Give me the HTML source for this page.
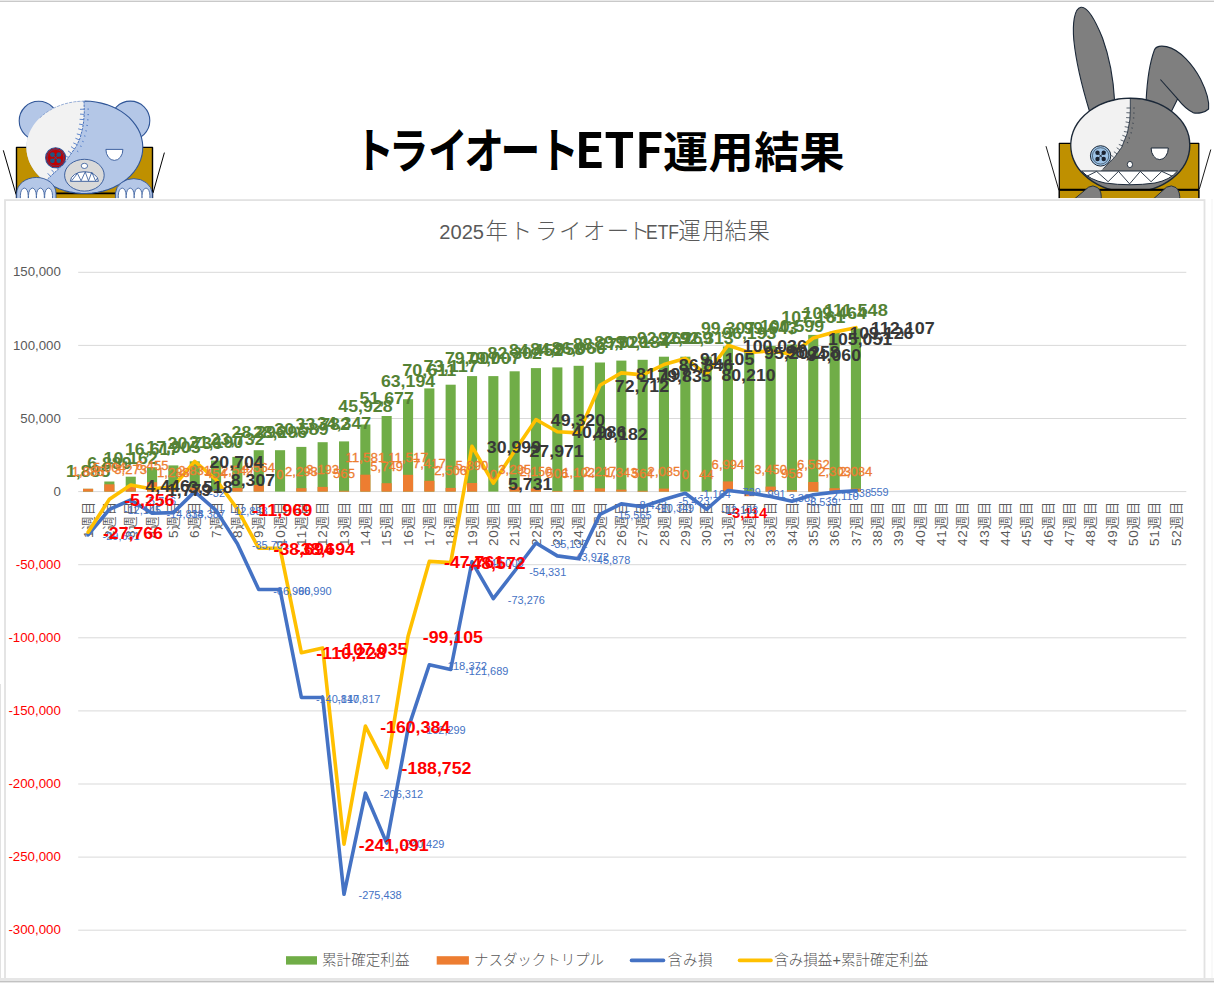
<!DOCTYPE html>
<html lang="ja"><head><meta charset="utf-8"><title>トライオートETF運用結果</title>
<style>html,body{margin:0;padding:0;background:#fff;width:1214px;height:983px;overflow:hidden}svg text{white-space:pre}</style>
</head><body>
<svg width="1214" height="983" viewBox="0 0 1214 983" style="position:absolute;left:0;top:0">
<rect x="0" y="0" width="1214" height="983" fill="#fff"/>
<g id="bear" stroke-linejoin="round">
<rect x="16.5" y="147.4" width="136" height="56" fill="#bf9000" stroke="#000" stroke-width="1.4"/>
<line x1="16.5" y1="193.3" x2="152.5" y2="193.3" stroke="#000" stroke-width="1.8"/>
<line x1="3.3" y1="150.3" x2="16.1" y2="194.6" stroke="#000" stroke-width="1"/>
<line x1="164.4" y1="152.6" x2="153" y2="193" stroke="#000" stroke-width="1"/>
<circle cx="38.7" cy="120.8" r="19.5" fill="#b4c7e7" stroke="#2f5597" stroke-width="1.1"/>
<circle cx="130.3" cy="120.6" r="19.5" fill="#b4c7e7" stroke="#2f5597" stroke-width="1.1"/>
<ellipse cx="84.6" cy="147.3" rx="58.2" ry="46.2" fill="#b4c7e7"/>
<path d="M84.0,101.1 L84.3,112.9 L83.6,122.0 L82.4,129.4 L80.2,137.7 L76.6,145.9 L70.8,154.1 L65.1,162.4 L56.8,170.6 L47.8,178.8 L45.0,181.2 L42.5,179.2 L40.2,177.2 L38.0,175.0 L36.0,172.8 L34.2,170.4 L32.6,168.0 L31.1,165.5 L29.8,162.9 L28.7,160.3 L27.9,157.6 L27.2,154.9 L26.7,152.1 L26.5,149.4 L26.4,146.6 L26.6,143.9 L26.9,141.1 L27.5,138.4 L28.3,135.7 L29.2,133.0 L30.4,130.4 L31.8,127.9 L33.3,125.4 L35.1,123.0 L37.0,120.7 L39.1,118.5 L41.3,116.4 L43.8,114.4 L46.3,112.5 L49.0,110.8 L51.8,109.1 L54.7,107.6 L57.8,106.3 L60.9,105.1 L64.1,104.0 L67.4,103.2 L70.8,102.4 L74.2,101.8 L77.7,101.4 L81.1,101.2 L84.6,101.1Z" fill="#f2f2f2"/>
<path d="M84.6,101.1 L90.3,101.3 L95.8,102.0 L101.3,103.1 L106.7,104.6 L111.8,106.5 L116.7,108.7 L121.2,111.4 L125.4,114.4 L129.3,117.7 L132.7,121.3 L135.6,125.1 L138.1,129.1 L140.1,133.3 L141.5,137.7 L142.4,142.1 L142.8,146.6 L142.6,151.1 L141.9,155.5 L140.6,159.9 L138.8,164.2 L136.5,168.3 L133.7,172.2 L130.4,175.8 L126.7,179.2 L122.6,182.3 L118.1,185.1 L113.3,187.5 L108.3,189.5 L103.0,191.1 L97.6,192.3 L92.0,193.1 L86.4,193.5 L80.7,193.4 L75.1,192.9 L69.5,191.9 L64.2,190.6 L59.0,188.8 L54.0,186.6 L49.4,184.1 L45.0,181.2" fill="none" stroke="#2f5597" stroke-width="1.1"/>
<path d="M84.6,101.1 L79.5,101.3 L74.4,101.8 L69.4,102.7 L64.5,103.9 L59.8,105.5 L55.3,107.4 L51.0,109.6 L46.9,112.1 L43.2,114.8 L39.8,117.9" fill="none" stroke="#5b7fc0" stroke-width="0.7" stroke-dasharray="3 1.2" opacity="0.8"/>
<path d="M84.0,101.1 L84.3,112.9 L83.6,122.0 L82.4,129.4 L80.2,137.7 L76.6,145.9 L70.8,154.1 L65.1,162.4 L56.8,170.6 L47.8,178.8" fill="none" stroke="#3a66b5" stroke-width="0.9" stroke-dasharray="2.4 1"/>
<path d="M84.2,109.2 l-4.2,0.1 M87.4,109.1 l1.6,-0.0 M84.2,114.4 l-4.2,-0.3 M87.4,114.6 l1.6,0.1 M83.8,119.6 l-4.2,-0.3 M87.0,119.8 l1.6,0.1 M83.2,124.8 l-4.1,-0.7 M86.3,125.3 l1.6,0.3 M82.3,129.9 l-4.1,-1.1 M85.4,130.7 l1.5,0.4 M80.9,135.0 l-4.1,-1.1 M84.0,135.8 l1.5,0.4 M79.2,139.9 l-3.8,-1.7 M82.2,141.2 l1.5,0.6 M77.1,144.6 l-3.8,-1.7 M80.1,145.9 l1.5,0.6 M74.4,149.0 l-3.4,-2.4 M77.0,150.9 l1.3,0.9 M71.4,153.3 l-3.4,-2.4 M68.4,157.6 l-3.5,-2.4 M65.4,161.9 l-3.5,-2.4 M61.8,165.6 l-3.0,-3.0 M58.1,169.3 l-3.0,-3.0 M54.3,172.9 l-2.8,-3.1 M50.5,176.4 l-2.8,-3.1" fill="none" stroke="#4472c4" stroke-width="0.85"/>
<circle cx="55.6" cy="157.7" r="10" fill="#c00000" stroke="#2f5597" stroke-width="1.1"/>
<circle cx="55.6" cy="157.7" r="8.3" fill="none" stroke="#2f5597" stroke-width="0.6"/>
<circle cx="52.4" cy="154.6" r="2.4" fill="#1f5582"/>
<circle cx="52.4" cy="160.79999999999998" r="2.4" fill="#1f5582"/>
<circle cx="58.800000000000004" cy="154.6" r="2.4" fill="#1f5582"/>
<circle cx="58.800000000000004" cy="160.79999999999998" r="2.4" fill="#1f5582"/>
<path d="M53.6,155.7 L57.6,159.7 M57.6,155.7 L53.6,159.7" stroke="#1f5c8e" stroke-width="0.9"/>
<path d="M105.9,149.4 L122.9,149.4 A8.5,11 0 0 1 105.9,149.4 Z" fill="#fff" stroke="#2f5597" stroke-width="0.9"/>
<ellipse cx="84.4" cy="175.2" rx="19.8" ry="15.9" fill="#d9d9d9" stroke="#2f5597" stroke-width="0.9"/>
<ellipse cx="84.4" cy="165.9" rx="3.2" ry="2.6" fill="#fff" stroke="#2f5597" stroke-width="0.8"/>
<path d="M70.4,181.3 A14,9.6 0 0 1 98.4,181.3 Z" fill="#fff" stroke="#2f5597" stroke-width="0.9"/>
<path d="M71.6,180.8 L77.4,173.4 L81.1,180.8 L85.2,171.9 L88.5,180.8 L91.8,172.2 L95.5,180.8 L97.5,178" fill="none" stroke="#2f5597" stroke-width="0.8"/>
<path d="M16.7,201 L16.7,193.2 A19.6,15.7 0 0 1 56,193.2 L56,201 Z" fill="#b4c7e7" stroke="#2f5597" stroke-width="0.9"/>
<path d="M115.4,201 L115.4,193.2 A18.5,15.7 0 0 1 152.3,193.2 L152.3,201 Z" fill="#b4c7e7" stroke="#2f5597" stroke-width="0.9"/>
<path d="M20.400000000000002,201 L20.400000000000002,195.5 A3.9,7.4 0 0 1 28.2,195.5 L28.2,201 Z" fill="#fff" stroke="#2f5597" stroke-width="0.8"/>
<path d="M28.5,201 L28.5,195.5 A3.9,7.4 0 0 1 36.3,195.5 L36.3,201 Z" fill="#fff" stroke="#2f5597" stroke-width="0.8"/>
<path d="M36.5,201 L36.5,195.5 A3.9,7.4 0 0 1 44.3,195.5 L44.3,201 Z" fill="#fff" stroke="#2f5597" stroke-width="0.8"/>
<path d="M44.7,201 L44.7,195.5 A3.9,7.4 0 0 1 52.5,195.5 L52.5,201 Z" fill="#fff" stroke="#2f5597" stroke-width="0.8"/>
<path d="M118.3,201 L118.3,195.5 A3.9,7.4 0 0 1 126.10000000000001,195.5 L126.10000000000001,201 Z" fill="#fff" stroke="#2f5597" stroke-width="0.8"/>
<path d="M126.29999999999998,201 L126.29999999999998,195.5 A3.9,7.4 0 0 1 134.1,195.5 L134.1,201 Z" fill="#fff" stroke="#2f5597" stroke-width="0.8"/>
<path d="M134.29999999999998,201 L134.29999999999998,195.5 A3.9,7.4 0 0 1 142.1,195.5 L142.1,201 Z" fill="#fff" stroke="#2f5597" stroke-width="0.8"/>
<path d="M142.1,201 L142.1,195.5 A3.9,7.4 0 0 1 149.9,195.5 L149.9,201 Z" fill="#fff" stroke="#2f5597" stroke-width="0.8"/>
</g>
<g id="rabbit" stroke-linejoin="round">
<rect x="1059.3" y="143.3" width="139.5" height="60" fill="#bf9000" stroke="#000" stroke-width="1.2"/>
<line x1="1046" y1="146.2" x2="1058.9" y2="190.3" stroke="#000" stroke-width="0.9"/>
<line x1="1210.8" y1="149.5" x2="1199.4" y2="188.9" stroke="#000" stroke-width="0.9"/>
<path d="M1089.4,111 C1083,90 1076,62 1073.8,40 C1072.5,24 1074,8.5 1081,7.3 C1088,6.3 1096,22 1102.5,38 C1109,56 1113.5,80 1114.6,101 Z" fill="#7f7f7f" stroke="#1b2838" stroke-width="1.1"/>
<path d="M1146.1,101 C1147,82 1150,62 1154.4,50 C1156,46 1161,45.6 1166.5,46.6 C1180,49.5 1193,65 1200.5,79 C1206,90 1209.5,101 1208.6,109 C1205,112.5 1198,114 1193,112.6 C1186,109 1181.5,104 1177.6,98.9 L1171.1,112 Z" fill="#7f7f7f" stroke="#1b2838" stroke-width="1.1"/>
<path d="M1160.4,79.5 L1177.6,98.9" fill="none" stroke="#1b2838" stroke-width="1.1"/>
<ellipse cx="1130.3" cy="145.2" rx="59.5" ry="46.9" fill="#7f7f7f" stroke="#1b2838" stroke-width="1.4"/>
<path d="M1130.3,98.6 L1130.3,110.0 L1129.8,120.0 L1127.4,133.0 L1121.7,147.3 L1114.5,157.4 L1103.1,168.8 L1100.5,171.0 L1081.5,171.0 L1079.8,168.9 L1078.2,166.7 L1076.8,164.4 L1075.6,162.1 L1074.5,159.8 L1073.6,157.4 L1072.8,155.0 L1072.2,152.5 L1071.8,150.1 L1071.6,147.6 L1071.5,145.1 L1071.6,142.6 L1071.9,140.1 L1072.3,137.6 L1072.9,135.2 L1073.7,132.7 L1074.6,130.3 L1075.7,128.0 L1077.0,125.7 L1078.4,123.5 L1080.0,121.3 L1081.7,119.2 L1083.6,117.2 L1085.5,115.2 L1087.7,113.4 L1089.9,111.6 L1092.3,109.9 L1094.8,108.4 L1097.4,106.9 L1100.0,105.6 L1102.8,104.4 L1105.7,103.3 L1108.6,102.3 L1111.6,101.4 L1114.6,100.7 L1117.7,100.1 L1120.8,99.6 L1124.0,99.3 L1127.1,99.1 L1130.3,99.0Z" fill="#f2f2f2"/>
<path d="M1130.3,98.6 L1130.3,110.0 L1129.8,120.0 L1127.4,133.0 L1121.7,147.3 L1114.5,157.4 L1103.1,168.8" fill="none" stroke="#1b2838" stroke-width="0.8"/>
<path d="M1130.3,108.0 l-3.8,0.0 M1133.3,108.0 l1.4,-0.0 M1130.2,112.9 l-3.8,-0.2 M1133.2,113.0 l1.4,0.1 M1129.9,117.8 l-3.8,-0.2 M1132.9,117.9 l1.4,0.1 M1129.3,122.6 l-3.7,-0.7 M1132.3,123.1 l1.4,0.3 M1128.4,127.4 l-3.7,-0.7 M1131.4,127.9 l1.4,0.3 M1127.6,132.2 l-3.7,-0.7 M1130.5,132.7 l1.4,0.3 M1125.9,136.7 l-3.5,-1.4 M1128.7,137.8 l1.3,0.5 M1124.1,141.3 l-3.5,-1.4 M1126.9,142.4 l1.3,0.5 M1122.3,145.8 l-3.5,-1.4 M1119.8,149.9 l-3.1,-2.2 M1117.0,153.9 l-3.1,-2.2 M1114.1,157.8 l-2.7,-2.7 M1110.7,161.2 l-2.7,-2.7" fill="none" stroke="#1b2838" stroke-width="0.7"/>
<circle cx="1100.6" cy="155.9" r="10.2" fill="#9dc3e6" stroke="#1b2838" stroke-width="1"/>
<circle cx="1100.6" cy="155.9" r="8.2" fill="none" stroke="#1b2838" stroke-width="0.6"/>
<circle cx="1097.5" cy="152.8" r="2.2" fill="#1b2230"/>
<circle cx="1097.5" cy="159.0" r="2.2" fill="#1b2230"/>
<circle cx="1103.6999999999998" cy="152.8" r="2.2" fill="#1b2230"/>
<circle cx="1103.6999999999998" cy="159.0" r="2.2" fill="#1b2230"/>
<path d="M1098.6,153.9 L1102.6,157.9 M1102.6,153.9 L1098.6,157.9" stroke="#1b2230" stroke-width="0.9"/>
<path d="M1151.1,148 L1168.3,148 A8.6,11.6 0 0 1 1151.1,148 Z" fill="#fff" stroke="#1b2838" stroke-width="1"/>
<ellipse cx="1129.9" cy="164.5" rx="2.6" ry="3.1" fill="#fff" stroke="#1b2838" stroke-width="0.9"/>
<path d="M1081.6,171 L1177.6,171 Q1170,180 1155,183 Q1130,186.5 1105,183 Q1090,180 1081.6,171 Z" fill="#fff" stroke="#1b2838" stroke-width="1"/>
<path d="M1087.3,176 L1096.6,171.4 L1108.1,181.7 L1118.5,171.4 L1129.6,183.9 L1140.3,171.4 L1151.1,181.7 L1161.8,171.4 L1171.9,176" fill="none" stroke="#1b2838" stroke-width="0.9"/>
<rect x="1059.3" y="189.8" width="139.5" height="14" fill="#bf9000" stroke="#000" stroke-width="1.2"/>
<line x1="1059.3" y1="189.8" x2="1198.8" y2="189.8" stroke="#000" stroke-width="2"/>
<path d="M1072,201 L1088.5,187.2 Q1093,184.4 1097.5,187.6 Q1102.5,191.5 1100.9,201 Z" fill="#7f7f7f" stroke="#1b2838" stroke-width="0.9"/>
<path d="M1151.1,201 L1166.5,187.2 Q1171.5,184.4 1176,187.6 Q1180.5,191.5 1179.7,201 Z" fill="#7f7f7f" stroke="#1b2838" stroke-width="0.9"/>
</g>
<rect x="0" y="198.1" width="1214" height="790" fill="#fff"/>
<rect x="5" y="200.1" width="1199.5" height="800" fill="none" stroke="#e2e2e2" stroke-width="1.8"/>
<rect x="0" y="0" width="1214" height="1" fill="#e9e9e9"/><rect x="0" y="1" width="1214" height="1" fill="#c9c9c9"/>
<rect x="0" y="978" width="1214" height="5" fill="#e6e6e6"/><rect x="0" y="981" width="1214" height="1" fill="#c2c2c2"/>
<rect x="0" y="684" width="1" height="294" fill="#e2e2e2"/>
<rect x="1211.5" y="199" width="1" height="779" fill="#f4f4f4"/>
<g style='font-family:"Noto Sans CJK JP","Liberation Sans",sans-serif;font-weight:700' fill="#000">
<text transform="scale(0.83,1)" x="426.80 468.34 515.55 559.41 603.15 649.46" y="168.3" font-size="48">トライオート</text>
<text transform="scale(1.0,1)" x="574.74 604.35 634.94" y="168" font-size="48.4">ETF</text>
<text transform="scale(1.04,1)" x="637.54 681.19 725.19 768.41" y="167.6" font-size="43.5">運用結果</text>
</g>
<g style='font-family:"Liberation Sans","Noto Sans CJK JP",sans-serif;font-size:22.4px;font-weight:300' fill="#595959">
<text y="239"><tspan x="439.3" style="font-weight:400;font-size:20.1px">2025</tspan><tspan x="485.5 509.8 535.1 559 582.9 606.7 627.7">年トライオート</tspan><tspan x="646" style="font-weight:400;font-size:20.1px" textLength="33" lengthAdjust="spacingAndGlyphs">ETF</tspan><tspan x="678.3 702.2 724.6 747.4">運用結果</tspan></text>
</g>
<g stroke="#d9d9d9" stroke-width="1">
<line x1="78.2" x2="1186.3" y1="930.2" y2="930.2"/>
<line x1="78.2" x2="1186.3" y1="857.1" y2="857.1"/>
<line x1="78.2" x2="1186.3" y1="784.0" y2="784.0"/>
<line x1="78.2" x2="1186.3" y1="710.9" y2="710.9"/>
<line x1="78.2" x2="1186.3" y1="637.8" y2="637.8"/>
<line x1="78.2" x2="1186.3" y1="564.7" y2="564.7"/>
<line x1="78.2" x2="1186.3" y1="491.6" y2="491.6"/>
<line x1="78.2" x2="1186.3" y1="418.5" y2="418.5"/>
<line x1="78.2" x2="1186.3" y1="345.4" y2="345.4"/>
<line x1="78.2" x2="1186.3" y1="272.3" y2="272.3"/>
</g>
<g style='font-family:"Liberation Sans",sans-serif;font-size:13px' text-anchor="end">
<text x="60.8" y="934.3" fill="#ff0000" textLength="52.4" lengthAdjust="spacingAndGlyphs">-300,000</text>
<text x="60.8" y="861.2" fill="#ff0000" textLength="52.4" lengthAdjust="spacingAndGlyphs">-250,000</text>
<text x="60.8" y="788.1" fill="#ff0000" textLength="52.4" lengthAdjust="spacingAndGlyphs">-200,000</text>
<text x="60.8" y="715.0" fill="#ff0000" textLength="52.4" lengthAdjust="spacingAndGlyphs">-150,000</text>
<text x="60.8" y="641.9" fill="#ff0000" textLength="52.4" lengthAdjust="spacingAndGlyphs">-100,000</text>
<text x="60.8" y="568.8" fill="#ff0000" textLength="45.0" lengthAdjust="spacingAndGlyphs">-50,000</text>
<text x="60.8" y="495.7" fill="#595959" textLength="7.4" lengthAdjust="spacingAndGlyphs">0</text>
<text x="60.8" y="422.6" fill="#595959" textLength="40.5" lengthAdjust="spacingAndGlyphs">50,000</text>
<text x="60.8" y="349.5" fill="#595959" textLength="47.9" lengthAdjust="spacingAndGlyphs">100,000</text>
<text x="60.8" y="276.4" fill="#595959" textLength="47.9" lengthAdjust="spacingAndGlyphs">150,000</text>
</g>
<g fill="#70ad47">
<rect x="83.0" y="488.8" width="10.1" height="2.8"/>
<rect x="104.3" y="481.5" width="10.1" height="10.1"/>
<rect x="125.7" y="476.7" width="10.1" height="14.9"/>
<rect x="147.0" y="467.3" width="10.1" height="24.3"/>
<rect x="168.3" y="465.4" width="10.1" height="26.2"/>
<rect x="189.7" y="461.3" width="10.1" height="30.3"/>
<rect x="211.0" y="460.6" width="10.1" height="31.0"/>
<rect x="232.3" y="456.9" width="10.1" height="34.7"/>
<rect x="253.7" y="450.2" width="10.1" height="41.4"/>
<rect x="275.0" y="450.2" width="10.1" height="41.4"/>
<rect x="296.3" y="446.9" width="10.1" height="44.7"/>
<rect x="317.6" y="442.2" width="10.1" height="49.4"/>
<rect x="339.0" y="441.4" width="10.1" height="50.2"/>
<rect x="360.3" y="424.5" width="10.1" height="67.1"/>
<rect x="381.6" y="416.0" width="10.1" height="75.6"/>
<rect x="403.0" y="399.2" width="10.1" height="92.4"/>
<rect x="424.3" y="388.4" width="10.1" height="103.2"/>
<rect x="445.6" y="384.7" width="10.1" height="106.9"/>
<rect x="467.0" y="376.1" width="10.1" height="115.5"/>
<rect x="488.3" y="376.1" width="10.1" height="115.5"/>
<rect x="509.6" y="371.3" width="10.1" height="120.3"/>
<rect x="530.9" y="368.1" width="10.1" height="123.5"/>
<rect x="552.3" y="367.4" width="10.1" height="124.2"/>
<rect x="573.6" y="365.8" width="10.1" height="125.8"/>
<rect x="594.9" y="362.5" width="10.1" height="129.1"/>
<rect x="616.3" y="360.6" width="10.1" height="131.0"/>
<rect x="637.6" y="359.8" width="10.1" height="131.8"/>
<rect x="658.9" y="356.7" width="10.1" height="134.9"/>
<rect x="680.3" y="356.7" width="10.1" height="134.9"/>
<rect x="701.6" y="356.6" width="10.1" height="135.0"/>
<rect x="722.9" y="346.4" width="10.1" height="145.2"/>
<rect x="744.2" y="351.0" width="10.1" height="140.6"/>
<rect x="765.6" y="345.9" width="10.1" height="145.7"/>
<rect x="786.9" y="344.5" width="10.1" height="147.1"/>
<rect x="808.2" y="334.9" width="10.1" height="156.7"/>
<rect x="829.6" y="331.6" width="10.1" height="160.0"/>
<rect x="850.9" y="328.5" width="10.1" height="163.1"/>
</g><g fill="#ed7d31">
<rect x="83.0" y="488.8" width="10.1" height="2.8"/>
<rect x="104.3" y="484.3" width="10.1" height="7.3"/>
<rect x="125.7" y="486.8" width="10.1" height="4.8"/>
<rect x="147.0" y="482.2" width="10.1" height="9.4"/>
<rect x="168.3" y="489.7" width="10.1" height="1.9"/>
<rect x="189.7" y="487.5" width="10.1" height="4.1"/>
<rect x="211.0" y="490.9" width="10.1" height="0.7"/>
<rect x="232.3" y="487.9" width="10.1" height="3.7"/>
<rect x="253.7" y="484.9" width="10.1" height="6.7"/>
<rect x="296.3" y="488.2" width="10.1" height="3.4"/>
<rect x="317.6" y="486.9" width="10.1" height="4.7"/>
<rect x="339.0" y="490.8" width="10.1" height="0.8"/>
<rect x="360.3" y="474.7" width="10.1" height="16.9"/>
<rect x="381.6" y="483.2" width="10.1" height="8.4"/>
<rect x="403.0" y="474.8" width="10.1" height="16.8"/>
<rect x="424.3" y="480.8" width="10.1" height="10.8"/>
<rect x="445.6" y="487.9" width="10.1" height="3.7"/>
<rect x="467.0" y="483.0" width="10.1" height="8.6"/>
<rect x="509.6" y="486.8" width="10.1" height="4.8"/>
<rect x="530.9" y="488.5" width="10.1" height="3.1"/>
<rect x="552.3" y="490.9" width="10.1" height="0.7"/>
<rect x="573.6" y="490.0" width="10.1" height="1.6"/>
<rect x="594.9" y="488.4" width="10.1" height="3.2"/>
<rect x="616.3" y="489.6" width="10.1" height="2.0"/>
<rect x="637.6" y="490.8" width="10.1" height="0.8"/>
<rect x="658.9" y="488.6" width="10.1" height="3.0"/>
<rect x="701.6" y="491.5" width="10.1" height="0.1"/>
<rect x="722.9" y="481.4" width="10.1" height="10.2"/>
<rect x="744.2" y="491.6" width="10.1" height="4.6"/>
<rect x="765.6" y="486.6" width="10.1" height="5.0"/>
<rect x="786.9" y="490.2" width="10.1" height="1.4"/>
<rect x="808.2" y="482.0" width="10.1" height="9.6"/>
<rect x="829.6" y="488.2" width="10.1" height="3.4"/>
<rect x="850.9" y="488.6" width="10.1" height="3.0"/>
</g>
<g style='font-family:"Liberation Sans","Noto Sans CJK JP",sans-serif;font-size:13.5px;font-weight:350' fill="#595959" text-anchor="end">
<text transform="translate(92.7,501.8) rotate(-90)" textLength="36.3" lengthAdjust="spacing"><tspan style="font-weight:400">1</tspan>週目</text>
<text transform="translate(114.0,501.8) rotate(-90)" textLength="36.3" lengthAdjust="spacing"><tspan style="font-weight:400">2</tspan>週目</text>
<text transform="translate(135.3,501.8) rotate(-90)" textLength="36.3" lengthAdjust="spacing"><tspan style="font-weight:400">3</tspan>週目</text>
<text transform="translate(156.7,501.8) rotate(-90)" textLength="36.3" lengthAdjust="spacing"><tspan style="font-weight:400">4</tspan>週目</text>
<text transform="translate(178.0,501.8) rotate(-90)" textLength="36.3" lengthAdjust="spacing"><tspan style="font-weight:400">5</tspan>週目</text>
<text transform="translate(199.3,501.8) rotate(-90)" textLength="36.3" lengthAdjust="spacing"><tspan style="font-weight:400">6</tspan>週目</text>
<text transform="translate(220.6,501.8) rotate(-90)" textLength="36.3" lengthAdjust="spacing"><tspan style="font-weight:400">7</tspan>週目</text>
<text transform="translate(242.0,501.8) rotate(-90)" textLength="36.3" lengthAdjust="spacing"><tspan style="font-weight:400">8</tspan>週目</text>
<text transform="translate(263.3,501.8) rotate(-90)" textLength="36.3" lengthAdjust="spacing"><tspan style="font-weight:400">9</tspan>週目</text>
<text transform="translate(284.6,501.8) rotate(-90)" textLength="44.1" lengthAdjust="spacing"><tspan style="font-weight:400">10</tspan>週目</text>
<text transform="translate(306.0,501.8) rotate(-90)" textLength="44.1" lengthAdjust="spacing"><tspan style="font-weight:400">11</tspan>週目</text>
<text transform="translate(327.3,501.8) rotate(-90)" textLength="44.1" lengthAdjust="spacing"><tspan style="font-weight:400">12</tspan>週目</text>
<text transform="translate(348.6,501.8) rotate(-90)" textLength="44.1" lengthAdjust="spacing"><tspan style="font-weight:400">13</tspan>週目</text>
<text transform="translate(370.0,501.8) rotate(-90)" textLength="44.1" lengthAdjust="spacing"><tspan style="font-weight:400">14</tspan>週目</text>
<text transform="translate(391.3,501.8) rotate(-90)" textLength="44.1" lengthAdjust="spacing"><tspan style="font-weight:400">15</tspan>週目</text>
<text transform="translate(412.6,501.8) rotate(-90)" textLength="44.1" lengthAdjust="spacing"><tspan style="font-weight:400">16</tspan>週目</text>
<text transform="translate(433.9,501.8) rotate(-90)" textLength="44.1" lengthAdjust="spacing"><tspan style="font-weight:400">17</tspan>週目</text>
<text transform="translate(455.3,501.8) rotate(-90)" textLength="44.1" lengthAdjust="spacing"><tspan style="font-weight:400">18</tspan>週目</text>
<text transform="translate(476.6,501.8) rotate(-90)" textLength="44.1" lengthAdjust="spacing"><tspan style="font-weight:400">19</tspan>週目</text>
<text transform="translate(497.9,501.8) rotate(-90)" textLength="44.1" lengthAdjust="spacing"><tspan style="font-weight:400">20</tspan>週目</text>
<text transform="translate(519.3,501.8) rotate(-90)" textLength="44.1" lengthAdjust="spacing"><tspan style="font-weight:400">21</tspan>週目</text>
<text transform="translate(540.6,501.8) rotate(-90)" textLength="44.1" lengthAdjust="spacing"><tspan style="font-weight:400">22</tspan>週目</text>
<text transform="translate(561.9,501.8) rotate(-90)" textLength="44.1" lengthAdjust="spacing"><tspan style="font-weight:400">23</tspan>週目</text>
<text transform="translate(583.3,501.8) rotate(-90)" textLength="44.1" lengthAdjust="spacing"><tspan style="font-weight:400">24</tspan>週目</text>
<text transform="translate(604.6,501.8) rotate(-90)" textLength="44.1" lengthAdjust="spacing"><tspan style="font-weight:400">25</tspan>週目</text>
<text transform="translate(625.9,501.8) rotate(-90)" textLength="44.1" lengthAdjust="spacing"><tspan style="font-weight:400">26</tspan>週目</text>
<text transform="translate(647.2,501.8) rotate(-90)" textLength="44.1" lengthAdjust="spacing"><tspan style="font-weight:400">27</tspan>週目</text>
<text transform="translate(668.6,501.8) rotate(-90)" textLength="44.1" lengthAdjust="spacing"><tspan style="font-weight:400">28</tspan>週目</text>
<text transform="translate(689.9,501.8) rotate(-90)" textLength="44.1" lengthAdjust="spacing"><tspan style="font-weight:400">29</tspan>週目</text>
<text transform="translate(711.2,501.8) rotate(-90)" textLength="44.1" lengthAdjust="spacing"><tspan style="font-weight:400">30</tspan>週目</text>
<text transform="translate(732.6,501.8) rotate(-90)" textLength="44.1" lengthAdjust="spacing"><tspan style="font-weight:400">31</tspan>週目</text>
<text transform="translate(753.9,501.8) rotate(-90)" textLength="44.1" lengthAdjust="spacing"><tspan style="font-weight:400">32</tspan>週目</text>
<text transform="translate(775.2,501.8) rotate(-90)" textLength="44.1" lengthAdjust="spacing"><tspan style="font-weight:400">33</tspan>週目</text>
<text transform="translate(796.6,501.8) rotate(-90)" textLength="44.1" lengthAdjust="spacing"><tspan style="font-weight:400">34</tspan>週目</text>
<text transform="translate(817.9,501.8) rotate(-90)" textLength="44.1" lengthAdjust="spacing"><tspan style="font-weight:400">35</tspan>週目</text>
<text transform="translate(839.2,501.8) rotate(-90)" textLength="44.1" lengthAdjust="spacing"><tspan style="font-weight:400">36</tspan>週目</text>
<text transform="translate(860.5,501.8) rotate(-90)" textLength="44.1" lengthAdjust="spacing"><tspan style="font-weight:400">37</tspan>週目</text>
<text transform="translate(881.9,501.8) rotate(-90)" textLength="44.1" lengthAdjust="spacing"><tspan style="font-weight:400">38</tspan>週目</text>
<text transform="translate(903.2,501.8) rotate(-90)" textLength="44.1" lengthAdjust="spacing"><tspan style="font-weight:400">39</tspan>週目</text>
<text transform="translate(924.5,501.8) rotate(-90)" textLength="44.1" lengthAdjust="spacing"><tspan style="font-weight:400">40</tspan>週目</text>
<text transform="translate(945.9,501.8) rotate(-90)" textLength="44.1" lengthAdjust="spacing"><tspan style="font-weight:400">41</tspan>週目</text>
<text transform="translate(967.2,501.8) rotate(-90)" textLength="44.1" lengthAdjust="spacing"><tspan style="font-weight:400">42</tspan>週目</text>
<text transform="translate(988.5,501.8) rotate(-90)" textLength="44.1" lengthAdjust="spacing"><tspan style="font-weight:400">43</tspan>週目</text>
<text transform="translate(1009.9,501.8) rotate(-90)" textLength="44.1" lengthAdjust="spacing"><tspan style="font-weight:400">44</tspan>週目</text>
<text transform="translate(1031.2,501.8) rotate(-90)" textLength="44.1" lengthAdjust="spacing"><tspan style="font-weight:400">45</tspan>週目</text>
<text transform="translate(1052.5,501.8) rotate(-90)" textLength="44.1" lengthAdjust="spacing"><tspan style="font-weight:400">46</tspan>週目</text>
<text transform="translate(1073.8,501.8) rotate(-90)" textLength="44.1" lengthAdjust="spacing"><tspan style="font-weight:400">47</tspan>週目</text>
<text transform="translate(1095.2,501.8) rotate(-90)" textLength="44.1" lengthAdjust="spacing"><tspan style="font-weight:400">48</tspan>週目</text>
<text transform="translate(1116.5,501.8) rotate(-90)" textLength="44.1" lengthAdjust="spacing"><tspan style="font-weight:400">49</tspan>週目</text>
<text transform="translate(1137.8,501.8) rotate(-90)" textLength="44.1" lengthAdjust="spacing"><tspan style="font-weight:400">50</tspan>週目</text>
<text transform="translate(1159.2,501.8) rotate(-90)" textLength="44.1" lengthAdjust="spacing"><tspan style="font-weight:400">51</tspan>週目</text>
<text transform="translate(1180.5,501.8) rotate(-90)" textLength="44.1" lengthAdjust="spacing"><tspan style="font-weight:400">52</tspan>週目</text>
</g>
<polyline points="88.1,534.9 109.4,509.4 130.7,500.0 152.1,513.3 173.4,512.6 194.7,491.6 216.0,510.4 237.4,543.8 258.7,589.5 280.0,589.5 301.4,697.5 322.7,697.5 344.0,894.3 365.4,793.2 386.7,843.1 408.0,728.9 429.3,664.7 450.7,669.5 472.0,561.8 493.3,598.7 514.7,571.0 536.0,543.0 557.3,555.9 578.7,558.7 600.0,514.4 621.3,503.9 642.6,506.7 664.0,499.5 685.3,493.3 706.6,509.3 728.0,490.5 749.3,493.0 770.6,496.5 792.0,501.2 813.3,494.7 834.6,492.1 855.9,490.8" fill="none" stroke="#4472c4" stroke-width="3.6" stroke-linejoin="round" stroke-linecap="round"/>
<polyline points="88.1,532.2 109.4,499.3 130.7,485.1 152.1,489.0 173.4,486.5 194.7,461.3 216.0,479.5 237.4,509.1 258.7,548.2 280.0,548.2 301.4,652.8 322.7,648.1 344.0,844.1 365.4,726.1 386.7,767.6 408.0,636.5 429.3,561.4 450.7,562.6 472.0,446.3 493.3,483.2 514.7,450.7 536.0,419.5 557.3,431.7 578.7,432.9 600.0,385.3 621.3,372.9 642.6,374.9 664.0,364.6 685.3,358.4 706.6,374.3 728.0,345.3 749.3,352.4 770.6,350.9 792.0,354.1 813.3,338.0 834.6,332.1 855.9,327.7" fill="none" stroke="#ffc000" stroke-width="3.6" stroke-linejoin="round" stroke-linecap="round"/>
<g style='font-family:"Liberation Sans",sans-serif;font-size:17px;font-weight:700' fill="#548235" text-anchor="middle">
<text x="88.1" y="476.5" textLength="44.3" lengthAdjust="spacingAndGlyphs">1,885</text>
<text x="109.4" y="469.2" textLength="44.3" lengthAdjust="spacingAndGlyphs">6,889</text>
<text x="130.7" y="464.4" textLength="54.2" lengthAdjust="spacingAndGlyphs">10,162</text>
<text x="152.1" y="455.0" textLength="54.2" lengthAdjust="spacingAndGlyphs">16,617</text>
<text x="173.4" y="453.1" textLength="54.2" lengthAdjust="spacingAndGlyphs">17,905</text>
<text x="194.7" y="449.0" textLength="54.2" lengthAdjust="spacingAndGlyphs">20,736</text>
<text x="216.0" y="448.3" textLength="54.2" lengthAdjust="spacingAndGlyphs">21,190</text>
<text x="237.4" y="444.6" textLength="54.2" lengthAdjust="spacingAndGlyphs">23,732</text>
<text x="258.7" y="437.9" textLength="54.2" lengthAdjust="spacingAndGlyphs">28,296</text>
<text x="280.0" y="437.9" textLength="54.2" lengthAdjust="spacingAndGlyphs">28,296</text>
<text x="301.4" y="434.6" textLength="54.2" lengthAdjust="spacingAndGlyphs">30,589</text>
<text x="322.7" y="429.9" textLength="54.2" lengthAdjust="spacingAndGlyphs">33,782</text>
<text x="344.0" y="429.1" textLength="54.2" lengthAdjust="spacingAndGlyphs">34,347</text>
<text x="365.4" y="412.2" textLength="54.2" lengthAdjust="spacingAndGlyphs">45,928</text>
<text x="386.7" y="403.7" textLength="54.2" lengthAdjust="spacingAndGlyphs">51,677</text>
<text x="408.0" y="386.9" textLength="54.2" lengthAdjust="spacingAndGlyphs">63,194</text>
<text x="429.3" y="376.1" textLength="54.2" lengthAdjust="spacingAndGlyphs">70,611</text>
<text x="450.7" y="372.4" textLength="54.2" lengthAdjust="spacingAndGlyphs">73,117</text>
<text x="472.0" y="363.8" textLength="54.2" lengthAdjust="spacingAndGlyphs">79,007</text>
<text x="493.3" y="363.8" textLength="54.2" lengthAdjust="spacingAndGlyphs">79,007</text>
<text x="514.7" y="359.0" textLength="54.2" lengthAdjust="spacingAndGlyphs">82,302</text>
<text x="536.0" y="355.8" textLength="54.2" lengthAdjust="spacingAndGlyphs">84,452</text>
<text x="557.3" y="355.1" textLength="54.2" lengthAdjust="spacingAndGlyphs">84,958</text>
<text x="578.7" y="353.5" textLength="54.2" lengthAdjust="spacingAndGlyphs">86,060</text>
<text x="600.0" y="350.2" textLength="54.2" lengthAdjust="spacingAndGlyphs">88,277</text>
<text x="621.3" y="348.3" textLength="54.2" lengthAdjust="spacingAndGlyphs">89,620</text>
<text x="642.6" y="347.5" textLength="54.2" lengthAdjust="spacingAndGlyphs">90,184</text>
<text x="664.0" y="344.4" textLength="54.2" lengthAdjust="spacingAndGlyphs">92,269</text>
<text x="685.3" y="344.4" textLength="54.2" lengthAdjust="spacingAndGlyphs">92,269</text>
<text x="706.6" y="344.3" textLength="54.2" lengthAdjust="spacingAndGlyphs">92,313</text>
<text x="728.0" y="334.1" textLength="54.2" lengthAdjust="spacingAndGlyphs">99,307</text>
<text x="749.3" y="338.7" textLength="54.2" lengthAdjust="spacingAndGlyphs">96,193</text>
<text x="770.6" y="333.6" textLength="54.2" lengthAdjust="spacingAndGlyphs">99,643</text>
<text x="792.0" y="332.2" textLength="64.0" lengthAdjust="spacingAndGlyphs">100,599</text>
<text x="813.3" y="322.6" textLength="64.0" lengthAdjust="spacingAndGlyphs">107,161</text>
<text x="834.6" y="319.3" textLength="64.0" lengthAdjust="spacingAndGlyphs">109,464</text>
<text x="855.9" y="316.2" textLength="64.0" lengthAdjust="spacingAndGlyphs">111,548</text>
</g>
<g style='font-family:"Liberation Sans",sans-serif;font-size:12.9px' fill="#ed7d31" stroke="#ed7d31" stroke-width="0.3" text-anchor="middle">
<text x="88.1" y="476.2" textLength="32.8" lengthAdjust="spacingAndGlyphs">1,885</text>
<text x="109.4" y="471.7" textLength="32.8" lengthAdjust="spacingAndGlyphs">5,004</text>
<text x="130.7" y="474.2" textLength="32.8" lengthAdjust="spacingAndGlyphs">3,273</text>
<text x="152.1" y="469.6" textLength="32.8" lengthAdjust="spacingAndGlyphs">6,455</text>
<text x="173.4" y="477.1" textLength="32.8" lengthAdjust="spacingAndGlyphs">1,288</text>
<text x="194.7" y="474.9" textLength="32.8" lengthAdjust="spacingAndGlyphs">2,831</text>
<text x="216.0" y="478.3" textLength="21.9" lengthAdjust="spacingAndGlyphs">454</text>
<text x="237.4" y="475.3" textLength="32.8" lengthAdjust="spacingAndGlyphs">2,542</text>
<text x="258.7" y="472.3" textLength="32.8" lengthAdjust="spacingAndGlyphs">4,564</text>
<text x="280.0" y="479.0" textLength="7.3" lengthAdjust="spacingAndGlyphs">0</text>
<text x="301.4" y="475.6" textLength="32.8" lengthAdjust="spacingAndGlyphs">2,293</text>
<text x="322.7" y="474.3" textLength="32.8" lengthAdjust="spacingAndGlyphs">3,193</text>
<text x="344.0" y="478.2" textLength="21.9" lengthAdjust="spacingAndGlyphs">565</text>
<text x="365.4" y="462.1" textLength="40.1" lengthAdjust="spacingAndGlyphs">11,581</text>
<text x="386.7" y="470.6" textLength="32.8" lengthAdjust="spacingAndGlyphs">5,749</text>
<text x="408.0" y="462.2" textLength="40.1" lengthAdjust="spacingAndGlyphs">11,517</text>
<text x="429.3" y="468.2" textLength="32.8" lengthAdjust="spacingAndGlyphs">7,417</text>
<text x="450.7" y="475.3" textLength="32.8" lengthAdjust="spacingAndGlyphs">2,506</text>
<text x="472.0" y="470.4" textLength="32.8" lengthAdjust="spacingAndGlyphs">5,890</text>
<text x="493.3" y="479.0" textLength="7.3" lengthAdjust="spacingAndGlyphs">0</text>
<text x="514.7" y="474.2" textLength="32.8" lengthAdjust="spacingAndGlyphs">3,295</text>
<text x="536.0" y="475.9" textLength="32.8" lengthAdjust="spacingAndGlyphs">2,150</text>
<text x="557.3" y="478.3" textLength="21.9" lengthAdjust="spacingAndGlyphs">506</text>
<text x="578.7" y="477.4" textLength="32.8" lengthAdjust="spacingAndGlyphs">1,102</text>
<text x="600.0" y="475.8" textLength="32.8" lengthAdjust="spacingAndGlyphs">2,217</text>
<text x="621.3" y="477.0" textLength="32.8" lengthAdjust="spacingAndGlyphs">1,343</text>
<text x="642.6" y="478.2" textLength="21.9" lengthAdjust="spacingAndGlyphs">564</text>
<text x="664.0" y="476.0" textLength="32.8" lengthAdjust="spacingAndGlyphs">2,085</text>
<text x="685.3" y="479.0" textLength="7.3" lengthAdjust="spacingAndGlyphs">0</text>
<text x="706.6" y="478.9" textLength="14.6" lengthAdjust="spacingAndGlyphs">44</text>
<text x="728.0" y="468.8" textLength="32.8" lengthAdjust="spacingAndGlyphs">6,994</text>
<text x="770.6" y="474.0" textLength="32.8" lengthAdjust="spacingAndGlyphs">3,450</text>
<text x="792.0" y="477.6" textLength="21.9" lengthAdjust="spacingAndGlyphs">956</text>
<text x="813.3" y="469.4" textLength="32.8" lengthAdjust="spacingAndGlyphs">6,562</text>
<text x="834.6" y="475.6" textLength="32.8" lengthAdjust="spacingAndGlyphs">2,303</text>
<text x="855.9" y="476.0" textLength="32.8" lengthAdjust="spacingAndGlyphs">2,084</text>
</g>
<text x="747.3" y="517.7" style='font-family:"Liberation Sans",sans-serif;font-size:13.8px;font-weight:700' fill="#ff0000" text-anchor="middle" textLength="39.6" lengthAdjust="spacingAndGlyphs">-3,114</text>
<g style='font-family:"Liberation Sans",sans-serif;font-size:10.7px' fill="#4472c4">
<text x="102.6" y="539.9" textLength="37.1" lengthAdjust="spacingAndGlyphs">-29,651</text>
<text x="123.9" y="514.4" textLength="37.1" lengthAdjust="spacingAndGlyphs">-12,145</text>
<text x="145.2" y="505.0" textLength="31.0" lengthAdjust="spacingAndGlyphs">-5,716</text>
<text x="166.6" y="518.3" textLength="37.1" lengthAdjust="spacingAndGlyphs">-14,838</text>
<text x="187.9" y="517.6" textLength="37.1" lengthAdjust="spacingAndGlyphs">-14,387</text>
<text x="209.2" y="496.6" textLength="15.8" lengthAdjust="spacingAndGlyphs">-32</text>
<text x="230.5" y="515.4" textLength="37.1" lengthAdjust="spacingAndGlyphs">-12,883</text>
<text x="251.9" y="548.8" textLength="37.1" lengthAdjust="spacingAndGlyphs">-35,701</text>
<text x="273.2" y="594.5" textLength="37.1" lengthAdjust="spacingAndGlyphs">-66,990</text>
<text x="294.5" y="594.5" textLength="37.1" lengthAdjust="spacingAndGlyphs">-66,990</text>
<text x="315.9" y="702.5" textLength="43.2" lengthAdjust="spacingAndGlyphs">-140,817</text>
<text x="337.2" y="702.5" textLength="43.2" lengthAdjust="spacingAndGlyphs">-140,817</text>
<text x="358.5" y="899.3" textLength="43.2" lengthAdjust="spacingAndGlyphs">-275,438</text>
<text x="379.9" y="798.2" textLength="43.2" lengthAdjust="spacingAndGlyphs">-206,312</text>
<text x="401.2" y="848.1" textLength="43.2" lengthAdjust="spacingAndGlyphs">-240,429</text>
<text x="422.5" y="733.9" textLength="43.2" lengthAdjust="spacingAndGlyphs">-162,299</text>
<text x="443.8" y="669.7" textLength="43.2" lengthAdjust="spacingAndGlyphs">-118,372</text>
<text x="465.2" y="674.5" textLength="43.2" lengthAdjust="spacingAndGlyphs">-121,689</text>
<text x="486.5" y="566.8" textLength="37.1" lengthAdjust="spacingAndGlyphs">-48,008</text>
<text x="507.8" y="603.7" textLength="37.1" lengthAdjust="spacingAndGlyphs">-73,276</text>
<text x="529.2" y="576.0" textLength="37.1" lengthAdjust="spacingAndGlyphs">-54,331</text>
<text x="550.5" y="548.0" textLength="37.1" lengthAdjust="spacingAndGlyphs">-35,132</text>
<text x="571.8" y="560.9" textLength="37.1" lengthAdjust="spacingAndGlyphs">-43,972</text>
<text x="593.2" y="563.7" textLength="37.1" lengthAdjust="spacingAndGlyphs">-45,878</text>
<text x="614.5" y="519.4" textLength="37.1" lengthAdjust="spacingAndGlyphs">-15,565</text>
<text x="635.8" y="508.9" textLength="31.0" lengthAdjust="spacingAndGlyphs">-8,423</text>
<text x="657.1" y="511.7" textLength="37.1" lengthAdjust="spacingAndGlyphs">-10,349</text>
<text x="678.5" y="504.5" textLength="31.0" lengthAdjust="spacingAndGlyphs">-5,423</text>
<text x="699.8" y="498.3" textLength="31.0" lengthAdjust="spacingAndGlyphs">-1,164</text>
<text x="721.1" y="514.3" textLength="37.1" lengthAdjust="spacingAndGlyphs">-12,103</text>
<text x="742.5" y="495.5" textLength="18.2" lengthAdjust="spacingAndGlyphs">729</text>
<text x="763.8" y="498.0" textLength="21.9" lengthAdjust="spacingAndGlyphs">-991</text>
<text x="785.1" y="501.5" textLength="31.0" lengthAdjust="spacingAndGlyphs">-3,385</text>
<text x="806.5" y="506.2" textLength="31.0" lengthAdjust="spacingAndGlyphs">-6,539</text>
<text x="827.8" y="499.7" textLength="31.0" lengthAdjust="spacingAndGlyphs">-2,110</text>
<text x="849.1" y="497.1" textLength="21.9" lengthAdjust="spacingAndGlyphs">-338</text>
<text x="870.4" y="495.8" textLength="18.2" lengthAdjust="spacingAndGlyphs">559</text>
</g>
<g style='font-family:"Liberation Sans",sans-serif;font-size:17px;font-weight:700'>
<text x="102.9" y="538.8" fill="#ff0000" textLength="60.1" lengthAdjust="spacingAndGlyphs">-27,766</text>
<text x="124.2" y="505.9" fill="#ff0000" textLength="50.3" lengthAdjust="spacingAndGlyphs">-5,256</text>
<text x="145.5" y="491.7" fill="#383838" textLength="44.3" lengthAdjust="spacingAndGlyphs">4,446</text>
<text x="166.9" y="495.6" fill="#383838" textLength="44.3" lengthAdjust="spacingAndGlyphs">1,779</text>
<text x="188.2" y="493.1" fill="#383838" textLength="44.3" lengthAdjust="spacingAndGlyphs">3,518</text>
<text x="209.5" y="467.9" fill="#383838" textLength="54.2" lengthAdjust="spacingAndGlyphs">20,704</text>
<text x="230.8" y="486.1" fill="#383838" textLength="44.3" lengthAdjust="spacingAndGlyphs">8,307</text>
<text x="252.2" y="515.7" fill="#ff0000" textLength="60.1" lengthAdjust="spacingAndGlyphs">-11,969</text>
<text x="273.5" y="554.8" fill="#ff0000" textLength="60.1" lengthAdjust="spacingAndGlyphs">-38,694</text>
<text x="294.8" y="554.8" fill="#ff0000" textLength="60.1" lengthAdjust="spacingAndGlyphs">-38,694</text>
<text x="316.2" y="659.4" fill="#ff0000" textLength="69.9" lengthAdjust="spacingAndGlyphs">-110,228</text>
<text x="337.5" y="654.7" fill="#ff0000" textLength="69.9" lengthAdjust="spacingAndGlyphs">-107,035</text>
<text x="358.8" y="850.7" fill="#ff0000" textLength="69.9" lengthAdjust="spacingAndGlyphs">-241,091</text>
<text x="380.2" y="732.7" fill="#ff0000" textLength="69.9" lengthAdjust="spacingAndGlyphs">-160,384</text>
<text x="401.5" y="774.2" fill="#ff0000" textLength="69.9" lengthAdjust="spacingAndGlyphs">-188,752</text>
<text x="422.8" y="643.1" fill="#ff0000" textLength="60.1" lengthAdjust="spacingAndGlyphs">-99,105</text>
<text x="444.1" y="568.0" fill="#ff0000" textLength="60.1" lengthAdjust="spacingAndGlyphs">-47,761</text>
<text x="465.5" y="569.2" fill="#ff0000" textLength="60.1" lengthAdjust="spacingAndGlyphs">-48,572</text>
<text x="486.8" y="452.9" fill="#383838" textLength="54.2" lengthAdjust="spacingAndGlyphs">30,999</text>
<text x="508.1" y="489.8" fill="#383838" textLength="44.3" lengthAdjust="spacingAndGlyphs">5,731</text>
<text x="529.5" y="457.3" fill="#383838" textLength="54.2" lengthAdjust="spacingAndGlyphs">27,971</text>
<text x="550.8" y="426.1" fill="#383838" textLength="54.2" lengthAdjust="spacingAndGlyphs">49,320</text>
<text x="572.1" y="438.3" fill="#383838" textLength="54.2" lengthAdjust="spacingAndGlyphs">40,986</text>
<text x="593.5" y="439.5" fill="#383838" textLength="54.2" lengthAdjust="spacingAndGlyphs">40,182</text>
<text x="614.8" y="391.9" fill="#383838" textLength="54.2" lengthAdjust="spacingAndGlyphs">72,712</text>
<text x="636.1" y="379.5" fill="#383838" textLength="54.2" lengthAdjust="spacingAndGlyphs">81,197</text>
<text x="657.4" y="381.5" fill="#383838" textLength="54.2" lengthAdjust="spacingAndGlyphs">79,835</text>
<text x="678.8" y="371.2" fill="#383838" textLength="54.2" lengthAdjust="spacingAndGlyphs">86,846</text>
<text x="700.1" y="365.0" fill="#383838" textLength="54.2" lengthAdjust="spacingAndGlyphs">91,105</text>
<text x="721.4" y="380.9" fill="#383838" textLength="54.2" lengthAdjust="spacingAndGlyphs">80,210</text>
<text x="742.8" y="351.9" fill="#383838" textLength="64.0" lengthAdjust="spacingAndGlyphs">100,036</text>
<text x="764.1" y="359.0" fill="#383838" textLength="54.2" lengthAdjust="spacingAndGlyphs">95,202</text>
<text x="785.4" y="357.5" fill="#383838" textLength="54.2" lengthAdjust="spacingAndGlyphs">96,258</text>
<text x="806.8" y="360.7" fill="#383838" textLength="54.2" lengthAdjust="spacingAndGlyphs">94,060</text>
<text x="828.1" y="344.6" fill="#383838" textLength="64.0" lengthAdjust="spacingAndGlyphs">105,051</text>
<text x="849.4" y="338.7" fill="#383838" textLength="64.0" lengthAdjust="spacingAndGlyphs">109,126</text>
<text x="870.7" y="334.3" fill="#383838" textLength="64.0" lengthAdjust="spacingAndGlyphs">112,107</text>
</g>
<g style='font-family:"Liberation Sans","Noto Sans CJK JP",sans-serif;font-size:14.5px;font-weight:300' fill="#595959">
<rect x="286" y="956.2" width="31" height="8.4" fill="#70ad47"/>
<text x="322" y="965" textLength="87.4" lengthAdjust="spacing">累計確定利益</text>
<rect x="436.7" y="956.2" width="32.2" height="8.4" fill="#ed7d31"/>
<text x="474" y="965" textLength="130" lengthAdjust="spacing">ナスダックトリプル</text>
<line x1="631.5" x2="663.5" y1="960.4" y2="960.4" stroke="#4472c4" stroke-width="3.6" stroke-linecap="round"/>
<text x="667.8" y="965" textLength="44.8" lengthAdjust="spacing">含み損</text>
<line x1="739.5" x2="771" y1="960.4" y2="960.4" stroke="#ffc000" stroke-width="3.6" stroke-linecap="round"/>
<text x="774.2" y="965" textLength="154" lengthAdjust="spacing">含み損益+累計確定利益</text>
</g>
</svg>
</body></html>
